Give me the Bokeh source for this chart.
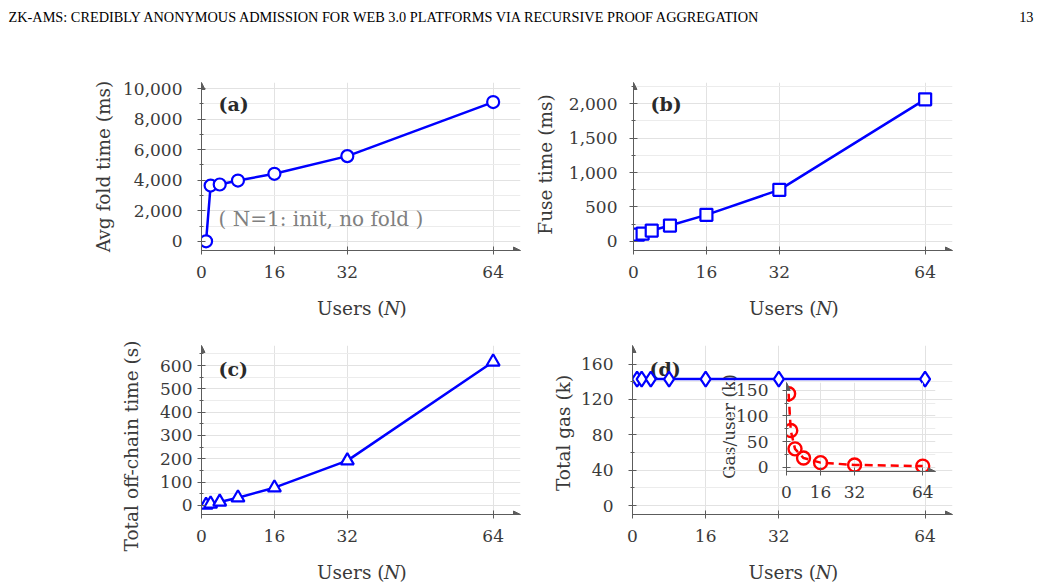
import math
from bokeh.plotting import figure
from bokeh.models import (Range1d, FixedTicker, NumeralTickFormatter, Label, Arrow,
                          NormalHead, GridBox, Column, ColumnDataSource)
from bokeh.embed import file_html
from bokeh.resources import INLINE

# ---------------- data ----------------
N = [1, 2, 4, 8, 16, 32, 64]
fold_ms = [0, 3650, 3720, 3980, 4420, 5580, 9120]
fuse_ms = [95, 110, 155, 228, 384, 748, 2065]
offchain_s = [2, 7, 15, 33, 76, 192, 616]
total_gas_k = [143, 143, 143, 143, 143, 143, 143]
gas_per_user_k = [143, 71.5, 35.8, 17.9, 8.9, 4.5, 2.2]

x_ticks = [0, 16, 32, 64]
a_ticks = [0, 2000, 4000, 6000, 8000, 10000]
a_minor = [1000, 3000, 5000, 7000, 9000]
b_ticks = [0, 500, 1000, 1500, 2000]
b_minor = [250, 750, 1250, 1750, 2250]
c_ticks = [0, 100, 200, 300, 400, 500, 600]
c_minor = [50, 150, 250, 350, 450, 550, 650]
d_ticks = [0, 40, 80, 120, 160]
d_minor = [20, 60, 100, 140]
in_ticks = [0, 50, 100, 150]
in_minor = [25, 75, 125]

header_left = "ZK-AMS: CREDIBLY ANONYMOUS ADMISSION FOR WEB 3.0 PLATFORMS VIA RECURSIVE PROOF AGGREGATION"
header_right = "13"
tags = ["(a)", "(b)", "(c)", "(d)"]
y_titles = ["Avg fold time (ms)", "Fuse time (ms)", "Total off-chain time (s)", "Total gas (k)"]
inset_title = "Gas/user (k)"
note_text = "( N=1: init, no fold )"
x_title = ["Users (", "N", ")"]

# ---------------- style ----------------
AX = "#5c5c5c"
TXT = "#3a3a3a"
GRID = "#e2e2e2"
MINOR = "#ececec"
BLUE = "#0000ff"
RED = "#ff0000"
SERIF = "DejaVu Serif"
W, H = 1041, 587

# frames: (left, top, width, height) in page pixels; borders: (left, top, right, bottom)
FR_A, MB_A = (201, 82, 319, 168), (110, 12, 8, 60)
FR_B, MB_B = (633, 82, 319, 168), (90, 12, 12, 60)
FR_C, MB_C = (201, 345, 319, 169), (110, 12, 8, 60)
FR_D, MB_D = (632, 345, 320, 169), (90, 12, 12, 60)
FR_I, MB_I = (786, 382, 149, 89), (60, 6, 10, 34)


def style_axes(p, yt, ym, ystand, xstand, fmt):
    p.outline_line_color = None
    p.background_fill_alpha = 0
    p.border_fill_alpha = 0
    p.xaxis.ticker = FixedTicker(ticks=x_ticks, minor_ticks=[])
    p.yaxis.ticker = FixedTicker(ticks=yt, minor_ticks=ym)
    if fmt:
        p.yaxis.formatter = NumeralTickFormatter(format="0,0")
    for ax in (p.xaxis[0], p.yaxis[0]):
        ax.axis_line_color = AX
        ax.major_tick_line_color = AX
        ax.minor_tick_line_color = AX
        ax.major_tick_in = 4
        ax.major_tick_out = 4
        ax.minor_tick_in = 2
        ax.minor_tick_out = 2
        ax.major_label_text_font = SERIF
        ax.major_label_text_font_size = "17px"
        ax.major_label_text_color = TXT
    p.xaxis.major_label_standoff = xstand
    p.yaxis.major_label_standoff = ystand
    p.xgrid.grid_line_color = GRID
    p.ygrid.grid_line_color = GRID
    p.ygrid.minor_grid_line_color = MINOR


def add_arrows(p, yr):
    head = dict(size=7, fill_color=AX, line_color=AX, line_width=1)
    p.add_layout(Arrow(end=NormalHead(**head), x_start=0, y_start=yr[0], x_end=0, y_end=yr[1],
                       line_color=AX, line_width=1))
    p.add_layout(Arrow(end=NormalHead(**head), x_start=0, y_start=yr[0], x_end=70, y_end=yr[0],
                       line_color=AX, line_width=1))


def add_tag(p, yr, txt, dy):
    p.add_layout(Label(x=0, y=yr[1], x_offset=17, y_offset=-dy, text=txt, text_font=SERIF,
                       text_font_style="bold", text_font_size="19px", text_color="#2a2a2a",
                       text_baseline="middle", level="underlay"))


def panel(frame, mb, yr, yt, ym, ystand, xstand=11, fmt=True):
    fx, fy, fw, fh = frame
    mbl, mbt, mbr, mbb = mb
    p = figure(frame_width=fw, frame_height=fh,
               x_range=Range1d(0, 70), y_range=Range1d(*yr),
               output_backend="svg", toolbar_location=None,
               min_border_left=mbl, min_border_top=mbt, min_border_right=mbr,
               min_border_bottom=mbb, margin=(fy - mbt, 0, 0, fx - mbl))
    style_axes(p, yt, ym, ystand, xstand, fmt)
    add_arrows(p, yr)
    return p


# ---------------- overlay with free texts (header, axis titles) ----------------
ov = figure(width=W, height=H, x_range=Range1d(0, W), y_range=Range1d(0, H),
            output_backend="svg", toolbar_location=None, x_axis_location=None,
            y_axis_location=None, min_border=0, margin=(0, 0, 0, 0))
ov.grid.visible = False
ov.outline_line_color = None


def sy(y):
    return H - y


ov.add_layout(Label(x=8, y=sy(16.7), text=header_left, text_font="Liberation Serif",
                    text_font_size="14.3px", text_color="#000000", text_baseline="alphabetic"))
ov.add_layout(Label(x=1033, y=sy(16.7), text=header_right, text_font="Liberation Serif",
                    text_font_size="14.3px", text_color="#000000", text_align="right",
                    text_baseline="alphabetic"))

# y titles: (text, center x, center y, size)
ytitle_specs = [
    (y_titles[0], FR_A[0] - 98, FR_A[1] + FR_A[3] / 2, "18.5px"),
    (y_titles[1], FR_B[0] - 88, FR_B[1] + FR_B[3] / 2 - 2, "18.5px"),
    (y_titles[2], FR_C[0] - 70, FR_C[1] + FR_C[3] / 2 + 16, "18.5px"),
    (y_titles[3], FR_D[0] - 69, FR_D[1] + FR_D[3] / 2 + 3, "18.5px"),
    (inset_title, FR_I[0] - 58, FR_I[1] + FR_I[3] / 2 - 0.5, "17px"),
]
for txt, cx, cy, fs in ytitle_specs:
    ov.add_layout(Label(x=cx, y=sy(cy), text=txt, angle=math.pi / 2, text_font=SERIF,
                        text_font_size=fs, text_color=TXT, text_align="center",
                        text_baseline="middle"))

# x titles "Users (N)" below each main panel
for fx, fy, fw, fh in (FR_A, FR_B, FR_C, FR_D):
    cx = fx + fw / 2
    base = sy(fy + fh + 58)
    common = dict(y=base, text_font=SERIF, text_font_size="18.5px", text_color=TXT,
                  text_baseline="alphabetic")
    ov.add_layout(Label(x=cx + 23.5, text=x_title[0], text_align="right", **common))
    ov.add_layout(Label(x=cx + 31, text=x_title[1], text_align="center",
                        text_font_style="italic", **common))
    ov.add_layout(Label(x=cx + 38.5, text=x_title[2], text_align="left", **common))

# ---------------- (a) ----------------
yr_a = (-600, 10400)
pa = panel(FR_A, MB_A, yr_a, a_ticks, a_minor, 15)
src_a = ColumnDataSource(dict(x=N, y=fold_ms))
pa.line("x", "y", source=src_a, line_color=BLUE, line_width=2.5)
pa.scatter("x", "y", source=src_a, marker="circle", size=12, line_color=BLUE, line_width=2.2,
           fill_color="white")
add_tag(pa, yr_a, tags[0], 21)
pa.add_layout(Label(x=0, y=0, x_offset=17, y_offset=22, text=note_text, text_font=SERIF,
                    text_font_size="20px", text_color="#808080", text_baseline="middle"))

# ---------------- (b) ----------------
yr_b = (-135, 2310)
pb = panel(FR_B, MB_B, yr_b, b_ticks, b_minor, 12)
src_b = ColumnDataSource(dict(x=N, y=fuse_ms))
pb.line("x", "y", source=src_b, line_color=BLUE, line_width=2.5)
pb.scatter("x", "y", source=src_b, marker="square", size=12, line_color=BLUE, line_width=2.2,
           fill_color="white")
add_tag(pb, yr_b, tags[1], 21)

# ---------------- (c) ----------------
yr_c = (-39, 686)
pc = panel(FR_C, MB_C, yr_c, c_ticks, c_minor, 5)
src_c = ColumnDataSource(dict(x=N, y=offchain_s))
pc.line("x", "y", source=src_c, line_color=BLUE, line_width=2.5)
pc.scatter("x", "y", source=src_c, marker="triangle", size=13, line_color=BLUE, line_width=2.2,
           fill_color="white")
add_tag(pc, yr_c, tags[2], 23)

# ---------------- (d) ----------------
yr_d = (-10, 181)
pd_ = panel(FR_D, MB_D, yr_d, d_ticks, d_minor, 15)
src_d = ColumnDataSource(dict(x=N, y=total_gas_k))
add_tag(pd_, yr_d, tags[3], 23)
pd_.line("x", "y", source=src_d, line_color=BLUE, line_width=2.5)
pd_.scatter("x", "y", source=src_d, marker="diamond", size=15, line_color=BLUE, line_width=2.2,
            fill_color="white")

# ---------------- inset ----------------
yr_i = (-8.3, 165)
pi = panel(FR_I, MB_I, yr_i, in_ticks, in_minor, 14, xstand=10, fmt=False)
src_i = ColumnDataSource(dict(x=N, y=gas_per_user_k))
pi.line("x", "y", source=src_i, line_color=RED, line_width=2.5, line_dash="8 5")
pi.scatter("x", "y", source=src_i, marker="circle", size=13, line_color=RED, line_width=2.4,
           fill_alpha=0)

layout = GridBox(children=[(Column(children=[f]), 0, 0) for f in (ov, pa, pb, pc, pd_, pi)])

open("out.html", "w").write(file_html(layout, INLINE))
